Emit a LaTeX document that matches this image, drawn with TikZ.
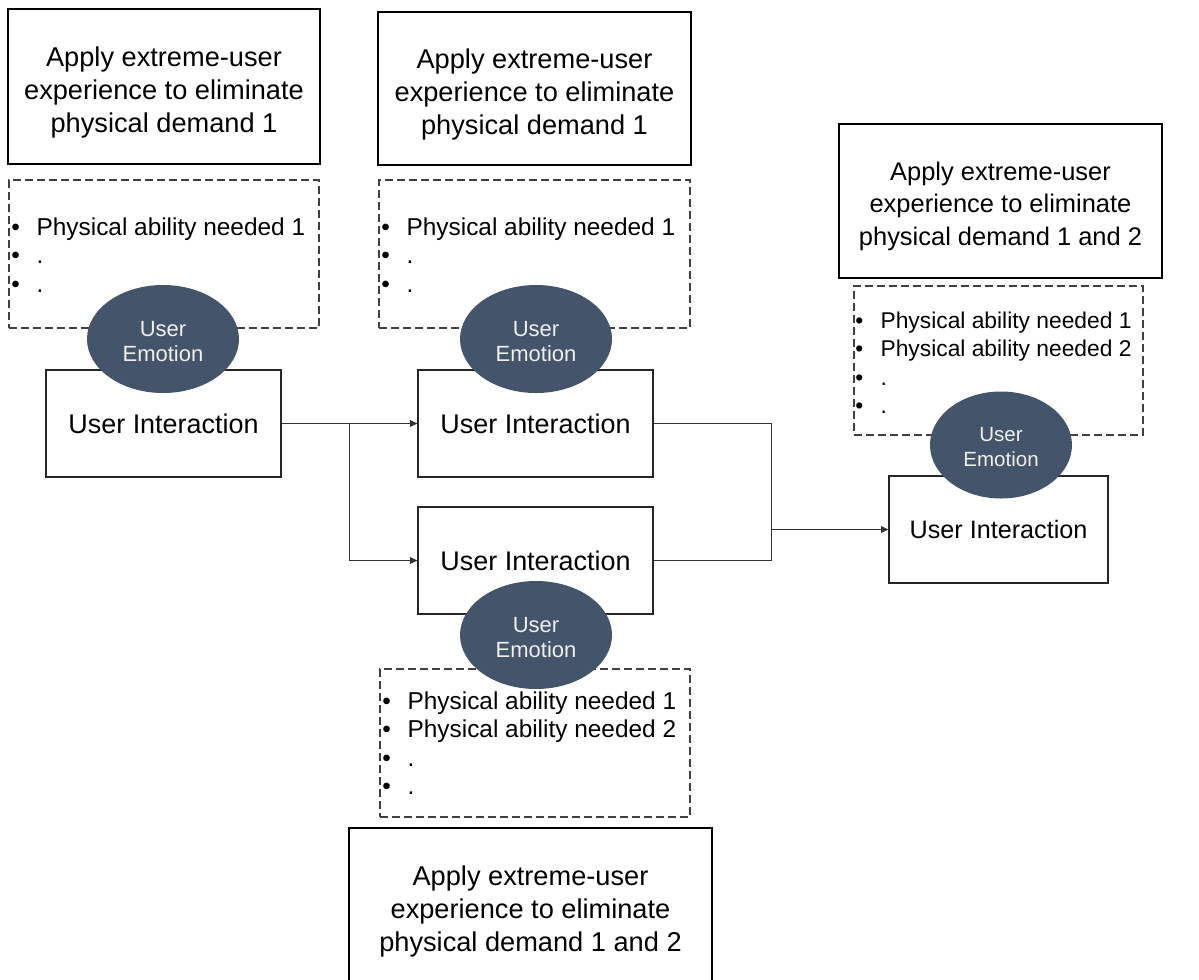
\documentclass[tikz,border=0pt]{standalone}
\usepackage{fontspec}
\setmainfont{Liberation Sans}
\usetikzlibrary{shapes.geometric,arrows.meta}
\definecolor{emofill}{HTML}{44546A}
\definecolor{dashgray}{HTML}{404040}
\newcommand{\bitem}[1]{\makebox[19pt][l]{•}#1}
\begin{document}
\begin{tikzpicture}[x=0.75pt,y=-0.75pt,
  sz/.style 2 args={minimum width=#1*0.75pt,minimum height=#2*0.75pt},
  applybox/.style={draw=black,line width=1.6pt,rectangle,inner sep=0pt},
  applytext/.style={inner sep=0pt,align=center,font=\fontsize{20.4}{24.75}\selectfont},
  uibox/.style={draw=black!85,line width=0.9pt,fill=white,rectangle,inner sep=0pt,
    font=\fontsize{20.2}{24}\selectfont},
  listbox/.style={draw=dashgray,line width=0.8pt,dash pattern=on 6pt off 3pt,rectangle,inner sep=0pt},
  listtext/.style={inner sep=0pt,anchor=base west,font=\fontsize{18.3}{21.4}\selectfont},
  emotion/.style={ellipse,fill=emofill,inner sep=0pt,text=white!94!black,align=center,
    font=\fontsize{16.5}{18.75}\selectfont},
  small/.style={font=\fontsize{#1}{24.4}\selectfont},
  conn/.style={draw=black!80,line width=0.75pt},
  arr/.style={-{Triangle[length=5.5pt,width=5pt]}}
]
\useasboundingbox (0,0) rectangle (1199,979);
\clip (0,0) rectangle (1199,979);

% goal boxes
\node[applybox,sz={312}{155}] (a1) at (164,86.5) {};
\node[applybox,sz={313}{153}] (a2) at (534.5,88.5) {};
\node[applybox,sz={323}{154}] (a3) at (1000.5,201) {};
\node[applybox,sz={363}{158}] (a4) at (530.5,907) {};
\node[applytext] (a1t) at (164,92)
  {Apply extreme-user\\experience to eliminate\\physical demand 1};
\node[applytext] (a2t) at (534.5,94)
  {Apply extreme-user\\experience to eliminate\\physical demand 1};
\node[applytext,small=19.1] (a3t) at (1000.5,206)
  {Apply extreme-user\\experience to eliminate\\physical demand 1 and 2};
\node[applytext] (a4t) at (530.5,911)
  {Apply extreme-user\\experience to eliminate\\physical demand 1 and 2};

% dashed ability lists
\node[listbox,sz={310}{148}] (d1) at (164,254) {};
\node[listbox,sz={311}{148}] (d2) at (534.5,254) {};
\node[listbox,sz={289}{149}] (d3) at (998.5,360.5) {};
\node[listbox,sz={310}{148}] (d4) at (535,743) {};

\node[listtext] (t1) at (11,235) {\begin{tabular}[t]{@{}l@{}}
  \bitem{Physical ability needed 1}\\ \bitem{.}\\ \bitem{.}\end{tabular}};
\node[listtext] (t2) at (381,235) {\begin{tabular}[t]{@{}l@{}}
  \bitem{Physical ability needed 1}\\ \bitem{.}\\ \bitem{.}\end{tabular}};
\node[listtext,font=\fontsize{17.1}{21.4}\selectfont] (t3) at (855,328) {\begin{tabular}[t]{@{}l@{}}
  \bitem{Physical ability needed 1}\\ \bitem{Physical ability needed 2}\\
  \bitem{.}\\ \bitem{.}\end{tabular}};
\node[listtext] (t4) at (382,709) {\begin{tabular}[t]{@{}l@{}}
  \bitem{Physical ability needed 1}\\ \bitem{Physical ability needed 2}\\
  \bitem{.}\\ \bitem{.}\end{tabular}};

% interaction boxes
\node[uibox,sz={235}{107}] (ui1) at (163.5,423.5) {User Interaction};
\node[uibox,sz={235}{107}] (ui2) at (535.5,423.5) {User Interaction};
\node[uibox,sz={235}{107}] (ui4) at (535.5,560.5) {User Interaction};
\node[uibox,sz={219}{107},font=\fontsize{18.9}{22}\selectfont] (ui3) at (998.5,529.5) {User Interaction};

% emotions
\node[emotion,sz={152}{108}] (e1) at (163,339) {};
\node[emotion,sz={152}{108}] (e2) at (536,339) {};
\node[emotion,sz={152}{108}] (e4) at (536,635) {};
\node[emotion,sz={142}{107}] (e3) at (1001,445) {};
\node[emotion,fill=none,minimum size=0pt] (e1t) at (163,341.5) {User\\Emotion};
\node[emotion,fill=none,minimum size=0pt] (e2t) at (536,341.5) {User\\Emotion};
\node[emotion,fill=none,minimum size=0pt] (e4t) at (536,637.5) {User\\Emotion};
\node[emotion,fill=none,minimum size=0pt,font=\fontsize{15.4}{18.75}\selectfont] (e3t) at (1001,447.5) {User\\Emotion};

% connectors
\coordinate (j1) at (349,423.5);
\coordinate (j2) at (771,529.5);
\draw[conn] (ui1.east) -- (j1);
\draw[conn,arr] (j1) -- (ui2.west);
\draw[conn,arr] (j1) |- (ui4.west);
\draw[conn] (ui2.east) -| (j2);
\draw[conn] (ui4.east) -| (j2);
\draw[conn,arr] (j2) -- (ui3.west);
\end{tikzpicture}
\end{document}
